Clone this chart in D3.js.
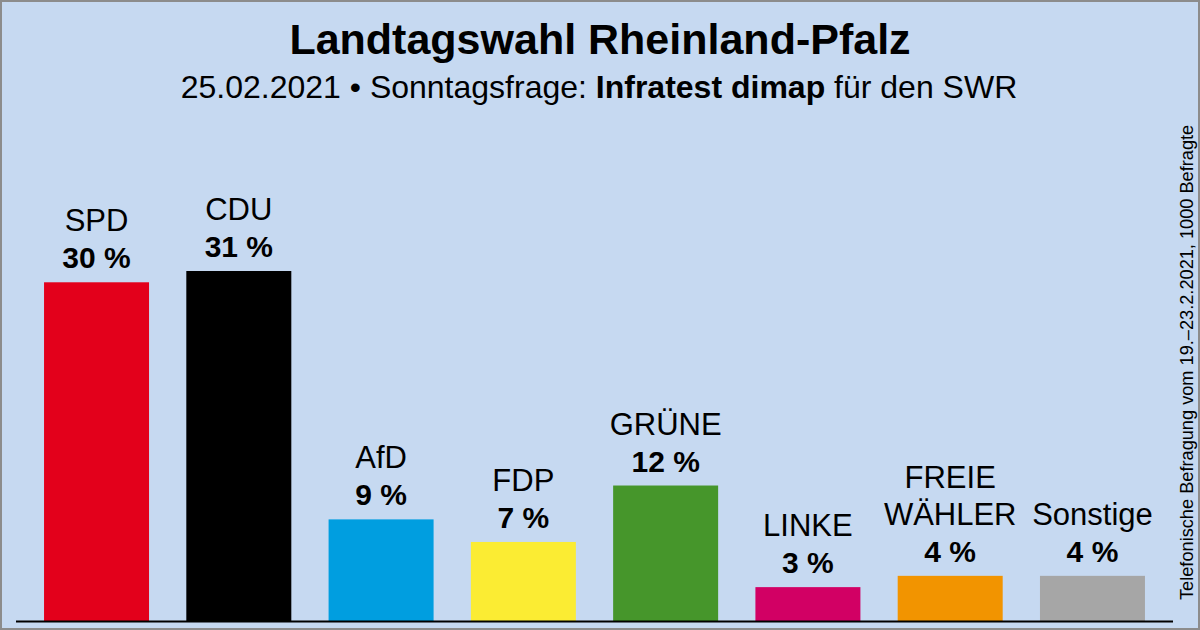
<!DOCTYPE html>
<html>
<head>
<meta charset="utf-8">
<script src="https://cdn.jsdelivr.net/npm/d3@7"></script>
<style>
  html, body { margin: 0; padding: 0; background: #fff; }
  svg { display: block; font-family: "Liberation Sans", Arial, sans-serif; }
</style>
</head>
<body>
<svg id="chart" width="1200" height="630"></svg>
<script>
const parties = ["SPD", "CDU", "AfD", "FDP", "GRÜNE", "LINKE", "FREIE WÄHLER", "Sonstige"];
const nameLines = [["SPD"], ["CDU"], ["AfD"], ["FDP"], ["GRÜNE"], ["LINKE"], ["FREIE", "WÄHLER"], ["Sonstige"]];
const values = [30, 31, 9, 7, 12, 3, 4, 4];
const colors = ["#E3001B", "#000000", "#009EE0", "#FBEC33", "#46962B", "#D20064", "#F29400", "#A6A6A6"];

const width = 1200, height = 630;
const baseY = 621;

const svg = d3.select("#chart");

svg.append("rect")
  .attr("x", 1).attr("y", 1)
  .attr("width", width - 2).attr("height", height - 2)
  .attr("fill", "#C6D9F1")
  .attr("stroke", "#8C8C8C")
  .attr("stroke-width", 2);

// title
svg.append("text")
  .attr("x", 600).attr("y", 54)
  .attr("text-anchor", "middle")
  .style("font-size", "43px")
  .style("font-weight", "bold")
  .text("Landtagswahl Rheinland-Pfalz");

const sub = svg.append("text")
  .attr("x", 599).attr("y", 98)
  .attr("text-anchor", "middle")
  .style("font-size", "32px");
sub.append("tspan").text("25.02.2021 • Sonntagsfrage: ");
sub.append("tspan").style("font-weight", "bold").text("Infratest dimap");
sub.append("tspan").text(" für den SWR");

// side note
svg.append("text")
  .attr("transform", "translate(1193,600) rotate(-90)")
  .attr("text-anchor", "start")
  .style("font-size", "18.2px")
  .text("Telefonische Befragung vom 19.–23.2.2021, 1000 Befragte");

const x = d3.scaleBand()
  .domain(parties)
  .range([25.4, 1163.6])
  .paddingInner(0.262)
  .paddingOuter(0.131);

const y = d3.scaleLinear()
  .domain([0, 31])
  .range([baseY, 271]);

const data = parties.map((p, i) => ({ party: p, lines: nameLines[i], value: values[i], color: colors[i] }));

svg.append("g")
  .selectAll("rect")
  .data(data)
  .join("rect")
  .attr("x", d => x(d.party))
  .attr("y", d => y(d.value))
  .attr("width", x.bandwidth())
  .attr("height", d => baseY - y(d.value))
  .attr("fill", d => d.color);

const lab = svg.append("g")
  .selectAll("g")
  .data(data)
  .join("g")
  .attr("transform", d => `translate(${x(d.party) + x.bandwidth() / 2},${y(d.value) - 14})`);

lab.append("text")
  .attr("text-anchor", "middle")
  .style("font-size", "30px")
  .style("font-weight", "bold")
  .text(d => `${d.value} %`);

lab.each(function(d) {
  const g = d3.select(this);
  const n = d.lines.length;
  d.lines.forEach((l, i) => {
    g.append("text")
      .attr("text-anchor", "middle")
      .attr("y", -37 * (n - i))
      .style("font-size", "31px")
      .text(l);
  });
});

// baseline
svg.append("line")
  .attr("x1", 16).attr("x2", 1173)
  .attr("y1", baseY + 0.5).attr("y2", baseY + 0.5)
  .attr("stroke", "#000")
  .attr("stroke-width", 2);
</script>
</body>
</html>
